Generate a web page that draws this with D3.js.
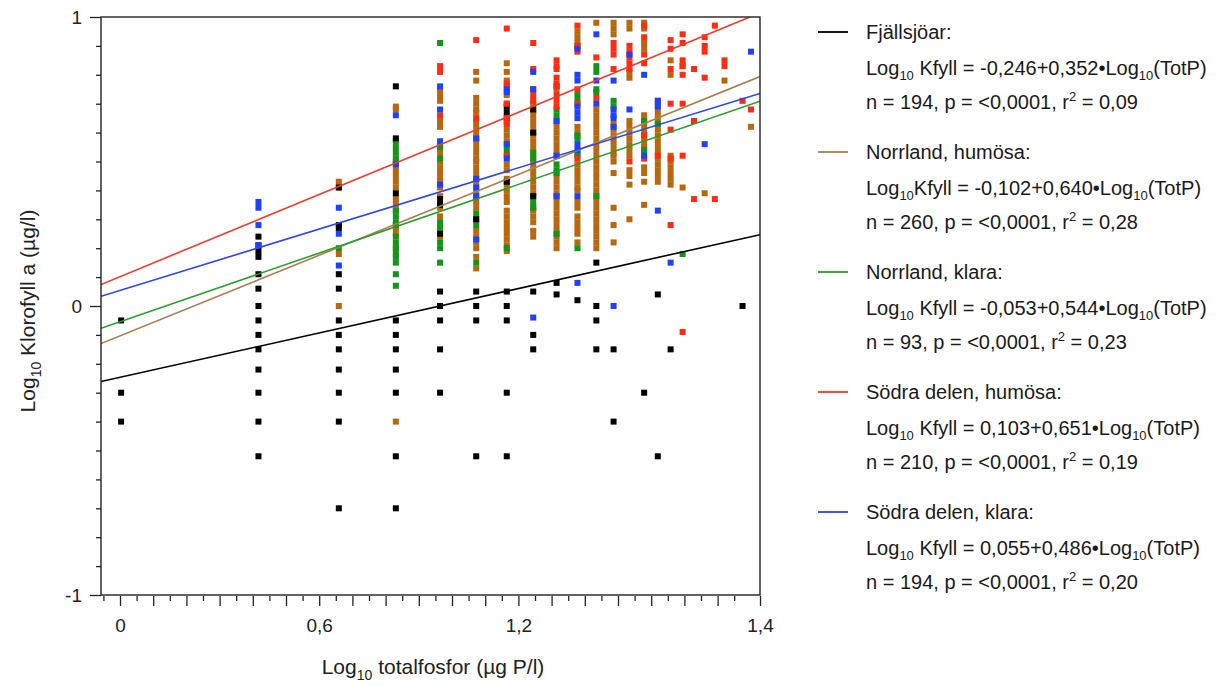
<!DOCTYPE html>
<html>
<head>
<meta charset="utf-8">
<script src="https://cdn.jsdelivr.net/npm/d3@7"></script>
<style>
  body { margin: 0; background: #fff; }
  svg { display: block; font-family: "Liberation Sans", Arial, Helvetica, sans-serif; }
</style>
</head>
<body>
<svg id="chart" width="1228" height="686"></svg>
<script>
// ---- Series definitions (regressions of log10 chlorophyll on log10 total phosphorus) ----
const seriesNames = ["Fjällsjöar:", "Norrland, humösa:", "Norrland, klara:", "Södra delen, humösa:", "Södra delen, klara:"];
const intercepts = [-0.246, -0.102, -0.053, 0.103, 0.055];
const slopes = [0.352, 0.640, 0.544, 0.651, 0.486];
const nValues = [194, 260, 93, 210, 194];
const pTexts = ["<0,0001", "<0,0001", "<0,0001", "<0,0001", "<0,0001"];
const r2Texts = ["0,09", "0,28", "0,23", "0,19", "0,20"];
const kfyllGap = [" ", "", " ", " ", " "];

// ---- Axis labels ----
const yTickLabels = [-1, 0, 1];
const xTickLabels = [[0, "0"], [0.6, "0,6"], [1.2, "1,2"]];
const xEndLabel = "1,4";

// ---- Observations: [total phosphorus µg/l, [log10 chlorophyll a, ...]] ----
const fjallPoints = [
  [1, [-0.05, -0.30, -0.40]],
  [2, [0.24, 0.21, 0.19, 0.17, 0.11, 0.06, 0, -0.05, -0.10, -0.15, -0.22, -0.30, -0.40, -0.52]],
  [3, [0.41, 0.28, 0.27, 0.11, 0.06, -0.05, -0.10, -0.15, -0.22, -0.30, -0.40, -0.70]],
  [4, [0.76, 0.58, 0.39, -0.05, -0.10, -0.15, -0.22, -0.30, -0.52, -0.70]],
  [5, [0.37, 0.35, 0.25, 0.05, 0, -0.05, -0.15, -0.30]],
  [6, [0.30, 0.05, 0, -0.05, -0.52]],
  [7, [0.69, 0.67, 0.65, 0.43, 0.05, 0, -0.05, -0.30, -0.52]],
  [8, [0.68, 0.60, 0.38, 0.05, -0.10, -0.15]],
  [9, [0.08, 0.04]],
  [10, [0.02]],
  [11, [0.15, 0, -0.05, -0.15]],
  [12, [-0.15, -0.40]],
  [14, [-0.30]],
  [15, [0.04, -0.52]],
  [16, [-0.15]],
  [23, [0]]
];

const brownPoints = [
  [3, [0.43, 0.41, 0.18, 0]],
  [4, [0.69, 0.68, 0.49, 0.47, 0.45, 0.43, 0.41, 0.37, 0.35, 0.33, 0.27, 0.25, 0.20, -0.40]],
  [5, [0.75, 0.73, 0.71, 0.65, 0.63, 0.62, 0.54, 0.52, 0.50, 0.48, 0.46, 0.44, 0.43, 0.41, 0.38, 0.34, 0.31, 0.24]],
  [6, [0.81, 0.78, 0.72, 0.70, 0.68, 0.67, 0.64, 0.62, 0.60, 0.58, 0.57, 0.55, 0.53, 0.51, 0.50, 0.48, 0.46, 0.44, 0.42, 0.40, 0.38, 0.36, 0.34, 0.26, 0.24, 0.22, 0.20, 0.17, 0.13]],
  [7, [0.84, 0.81, 0.78, 0.73, 0.70, 0.63, 0.61, 0.59, 0.57, 0.49, 0.47, 0.44, 0.42, 0.40, 0.38, 0.36, 0.33, 0.31, 0.29, 0.27, 0.25, 0.23, 0.21, 0.19]],
  [8, [0.70, 0.68, 0.66, 0.64, 0.62, 0.60, 0.59, 0.57, 0.55, 0.53, 0.51, 0.49, 0.47, 0.45, 0.43, 0.41, 0.39, 0.38, 0.34, 0.33, 0.31, 0.29, 0.26, 0.24]],
  [9, [0.76, 0.75, 0.64, 0.62, 0.60, 0.58, 0.56, 0.54, 0.52, 0.45, 0.43, 0.41, 0.39, 0.38, 0.36, 0.34, 0.32, 0.30, 0.28, 0.26, 0.24, 0.22, 0.20]],
  [10, [0.95, 0.93, 0.91, 0.90, 0.62, 0.60, 0.49, 0.47, 0.45, 0.43, 0.41, 0.40, 0.36, 0.34, 0.31, 0.29, 0.27, 0.25, 0.22]],
  [11, [0.98, 0.68, 0.66, 0.64, 0.62, 0.60, 0.58, 0.56, 0.54, 0.52, 0.50, 0.48, 0.46, 0.44, 0.42, 0.40, 0.38, 0.36, 0.34, 0.32, 0.30, 0.28, 0.26, 0.24, 0.22, 0.20]],
  [12, [0.98, 0.96, 0.94, 0.63, 0.61, 0.59, 0.57, 0.55, 0.53, 0.52, 0.50, 0.46, 0.34, 0.28, 0.22]],
  [13, [0.98, 0.96, 0.81, 0.79, 0.64, 0.62, 0.60, 0.58, 0.56, 0.54, 0.52, 0.47, 0.45, 0.42, 0.30]],
  [14, [0.98, 0.96, 0.91, 0.89, 0.66, 0.64, 0.62, 0.60, 0.58, 0.56, 0.54, 0.48, 0.46, 0.43, 0.35]],
  [15, [0.69, 0.67, 0.65, 0.63, 0.61, 0.59, 0.57, 0.55, 0.53, 0.51, 0.49, 0.47, 0.45, 0.43]],
  [16, [0.85, 0.80, 0.52, 0.50, 0.48, 0.46, 0.44, 0.42]],
  [17, [0.83, 0.41]],
  [19, [0.39]],
  [21, [0.78]],
  [24, [0.62]]
];

const greenPoints = [
  [3, [0.20]],
  [4, [0.57, 0.55, 0.53, 0.51, 0.50, 0.33, 0.31, 0.29, 0.28, 0.24, 0.22, 0.20, 0.18, 0.17, 0.15, 0.11, 0.07]],
  [5, [0.91, 0.55, 0.51, 0.29, 0.27, 0.22, 0.20, 0.15]],
  [6, [0.32, 0.30, 0.28, 0.15]],
  [7, [0.55, 0.53, 0.20]],
  [8, [0.53, 0.51, 0.36, 0.34]],
  [9, [0.68, 0.66, 0.49, 0.47, 0.46, 0.25]],
  [10, [0.73, 0.71, 0.59, 0.58, 0.53, 0.52, 0.20]],
  [11, [0.83, 0.81, 0.75, 0.74, 0.38]],
  [12, [0.71, 0.69]],
  [14, [0.64, 0.54]],
  [15, [0.63]],
  [17, [0.18]]
];

const redPoints = [
  [5, [0.83, 0.81, 0.66]],
  [6, [0.92, 0.65]],
  [7, [0.96, 0.77, 0.76, 0.70, 0.65, 0.63, 0.52]],
  [8, [0.91, 0.82, 0.75, 0.73, 0.71]],
  [9, [0.85, 0.83, 0.82, 0.79, 0.77, 0.76, 0.73, 0.71, 0.69]],
  [10, [0.97, 0.90, 0.88, 0.75, 0.70, 0.51]],
  [11, [0.86, 0.72]],
  [12, [0.91, 0.89, 0.87, 0.82]],
  [13, [0.90, 0.88, 0.86, 0.84, 0.82, 0.50]],
  [14, [0.97, 0.93, 0.87, 0.84, 0.59, 0.51]],
  [15, [0.71, 0.52]],
  [16, [0.92, 0.89, 0.82, 0.70, 0.61, 0.51, 0.28]],
  [17, [0.94, 0.91, 0.85, 0.83, 0.80, 0.70, 0.52, -0.09]],
  [18, [0.82, 0.64, 0.37]],
  [19, [0.93, 0.90, 0.88, 0.79]],
  [20, [0.97, 0.37]],
  [21, [0.85, 0.83]],
  [23, [0.71]],
  [24, [0.68]]
];

const bluePoints = [
  [2, [0.36, 0.34, 0.28, 0.21]],
  [3, [0.34, 0.25, 0.14]],
  [4, [0.66, 0.49]],
  [5, [0.76, 0.68, 0.57, 0.42]],
  [6, [0.58, 0.44, 0.41, 0.38, 0.23]],
  [7, [0.75, 0.74, 0.56, 0.51]],
  [8, [0.81, 0.75, -0.04]],
  [9, [0.64, 0.52, 0.38]],
  [10, [0.89, 0.80, 0.78, 0.69, 0.67, 0.65, 0.56, 0.54, 0.38, 0.08]],
  [11, [0.94, 0.78, 0.70]],
  [12, [0.78, 0.68, 0.66, 0.65, 0.62, 0]],
  [13, [0.87, 0.68]],
  [14, [0.80, 0.52]],
  [15, [0.71, 0.69, 0.33]],
  [16, [0.15]],
  [19, [0.56]],
  [24, [0.88]]
];

const seriesPoints = [fjallPoints, brownPoints, greenPoints, redPoints, bluePoints];
const markerColors = ["#000000", "#b8670c", "#11961a", "#ff2b12", "#1e40ff"];
const lineColors = ["#000000", "#a8804f", "#2a9c2a", "#f23a2a", "#2a46f0"];
// painting order of the marker layers (brown at the bottom)
const layerOrder = [1, 2, 0, 3, 4];

// ---- Layout ----
const svg = d3.select("#chart");
const plot = { left: 101, right: 760, top: 17, bottom: 595 };
const tickFont = 19, titleFont = 21, legendFont = 20;

const x = d3.scaleLinear().domain([-0.044, 1.4]).range([plot.left, plot.right]);
const y = d3.scaleLinear().domain([-1, 1]).range([plot.bottom, plot.top]);
// ruler used for the printed tick marks along the bottom axis
const xRuler = d3.scaleLinear().domain([0, 1.2]).range([120, 518.4]);

svg.append("defs").append("clipPath").attr("id", "plotClip")
  .append("rect")
  .attr("x", plot.left).attr("y", plot.top)
  .attr("width", plot.right - plot.left).attr("height", plot.bottom - plot.top);

// ---- Markers ----
const markerLayer = svg.append("g").attr("clip-path", "url(#plotClip)");
const m = 6;
layerOrder.forEach(i => {
  const pts = seriesPoints[i].flatMap(([tp, vals]) => vals.map(v => ({ lx: Math.log10(tp), ly: v })));
  markerLayer.append("g")
    .selectAll("rect")
    .data(pts)
    .join("rect")
    .attr("x", d => x(d.lx) - m / 2)
    .attr("y", d => y(d.ly) - m / 2)
    .attr("width", m)
    .attr("height", m)
    .attr("fill", markerColors[i]);
});

// ---- Regression lines ----
const lineLayer = svg.append("g").attr("clip-path", "url(#plotClip)");
const line = d3.line().x(d => x(d[0])).y(d => y(d[1]));
intercepts.forEach((a, i) => {
  const [x0, x1] = x.domain();
  lineLayer.append("path")
    .attr("d", line([[x0, a + slopes[i] * x0], [x1, a + slopes[i] * x1]]))
    .attr("fill", "none")
    .attr("stroke", lineColors[i])
    .attr("stroke-width", 1.6);
});

// ---- Frame ----
svg.append("rect")
  .attr("x", plot.left).attr("y", plot.top)
  .attr("width", plot.right - plot.left).attr("height", plot.bottom - plot.top)
  .attr("fill", "none").attr("stroke", "#222").attr("stroke-width", 1.4);

// ---- Y axis ----
const yTicks = d3.range(-10, 11).map(k => k / 10);
const isMajorY = d => yTickLabels.includes(Math.round(d * 10) / 10);
const yAxis = svg.append("g")
  .attr("transform", `translate(${plot.left},0)`)
  .call(d3.axisLeft(y).tickValues(yTicks).tickSize(5).tickSizeOuter(0)
    .tickFormat(d => isMajorY(d) ? String(Math.round(d)) : ""));
yAxis.select(".domain").remove();
yAxis.selectAll(".tick line").attr("stroke", "#222").attr("stroke-width", 1.3)
  .attr("x2", d => isMajorY(d) ? -11 : -5);
yAxis.selectAll(".tick text")
  .attr("x", -19).attr("dy", "0.35em")
  .attr("font-size", tickFont).attr("fill", "#222")
  .attr("font-family", "Liberation Sans, Arial, sans-serif");

// ---- X axis ----
const xTicks = d3.range(-1, 38).map(k => k * 0.05);
const labelled = new Map(xTickLabels.map(([v, t]) => [v.toFixed(2), t]));
const xAxis = svg.append("g")
  .attr("transform", `translate(0,${plot.bottom + 1})`)
  .call(d3.axisBottom(xRuler).tickValues(xTicks).tickSize(5).tickSizeOuter(0)
    .tickFormat(d => labelled.get(d.toFixed(2)) || ""));
xAxis.select(".domain").remove();
xAxis.selectAll(".tick line").attr("stroke", "#222").attr("stroke-width", 1.3)
  .attr("y2", (d, i) => (i % 2 === 1) ? 10 : 5);
xAxis.selectAll(".tick text")
  .attr("y", 23).attr("dy", "0.71em")
  .attr("font-size", tickFont).attr("fill", "#222")
  .attr("font-family", "Liberation Sans, Arial, sans-serif");

// closing tick at the right end of the axis
const xEnd = svg.append("g")
  .attr("transform", `translate(0,${plot.bottom + 1})`)
  .call(d3.axisBottom(x).tickValues([1.4]).tickSize(10).tickSizeOuter(0).tickFormat(() => xEndLabel));
xEnd.select(".domain").remove();
xEnd.selectAll(".tick line").attr("stroke", "#222").attr("stroke-width", 1.3);
xEnd.selectAll(".tick text")
  .attr("y", 23).attr("dy", "0.71em")
  .attr("font-size", tickFont).attr("fill", "#222")
  .attr("font-family", "Liberation Sans, Arial, sans-serif");

// ---- Rich text helper (sub/superscripts) ----
function richText(sel, parts, baseSize) {
  let shift = 0;
  parts.forEach(p => {
    const target = p.sub ? Math.round(baseSize * 0.27) : p.sup ? -Math.round(baseSize * 0.38) : 0;
    sel.append("tspan")
      .attr("dy", target - shift)
      .attr("font-size", (p.sub || p.sup) ? Math.round(baseSize * 0.65) : baseSize)
      .text(p.t);
    shift = target;
  });
}

// ---- Axis titles ----
const yTitle = svg.append("text")
  .attr("transform", "translate(35,311) rotate(-90)")
  .attr("text-anchor", "middle")
  .attr("font-size", titleFont).attr("fill", "#222");
richText(yTitle, [{ t: "Log" }, { t: "10", sub: true }, { t: " Klorofyll a (µg/l)" }], titleFont);

const xTitle = svg.append("text")
  .attr("x", 433).attr("y", 674)
  .attr("text-anchor", "middle")
  .attr("font-size", titleFont).attr("fill", "#222");
richText(xTitle, [{ t: "Log" }, { t: "10", sub: true }, { t: " totalfosfor (µg P/l)" }], titleFont);

// ---- Legend ----
const fmt = v => v.toFixed(3).replace(".", ",");
const legend = svg.append("g");
seriesNames.forEach((name, i) => {
  const top = 32 + i * 120;
  legend.append("line")
    .attr("x1", 818).attr("x2", 848).attr("y1", top).attr("y2", top)
    .attr("stroke", lineColors[i]).attr("stroke-width", 1.8);
  legend.append("text").attr("x", 866).attr("y", top + 7)
    .attr("font-size", legendFont).attr("fill", "#1a1a1a").text(name);
  const eq = legend.append("text").attr("x", 866).attr("y", top + 43)
    .attr("font-size", legendFont).attr("fill", "#1a1a1a");
  richText(eq, [
    { t: "Log" }, { t: "10", sub: true },
    { t: `${kfyllGap[i]}Kfyll = ${fmt(intercepts[i])}+${fmt(slopes[i])}•Log` },
    { t: "10", sub: true }, { t: "(TotP)" }
  ], legendFont);
  const st = legend.append("text").attr("x", 866).attr("y", top + 77)
    .attr("font-size", legendFont).attr("fill", "#1a1a1a");
  richText(st, [
    { t: `n = ${nValues[i]}, p = ${pTexts[i]}, r` }, { t: "2", sup: true }, { t: ` = ${r2Texts[i]}` }
  ], legendFont);
});
</script>
</body>
</html>
